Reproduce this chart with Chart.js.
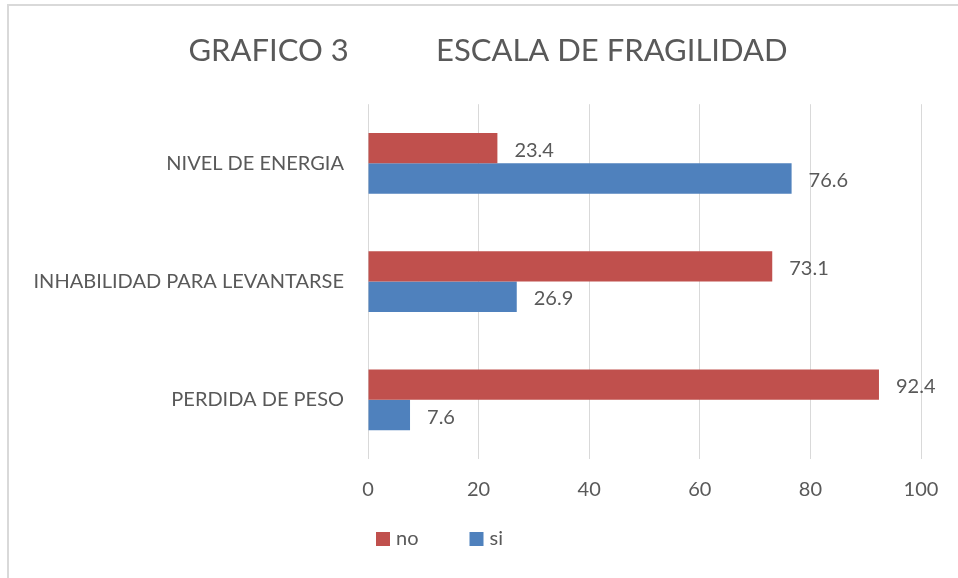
<!DOCTYPE html>
<html>
<head>
<meta charset="utf-8">
<script src="https://cdn.jsdelivr.net/npm/chart.js@4/dist/chart.umd.min.js"></script>
<style>
  html, body { margin: 0; padding: 0; background: #fff; }
  #wrap { position: relative; width: 958px; height: 578px; overflow: hidden; }
  #frame { position: absolute; left: 7px; top: 4px; width: 2000px; height: 2000px;
           border-left: 2px solid #D9D9D9; border-top: 2px solid #D9D9D9; }
  canvas { position: absolute; left: 0; top: 0; }
</style>
</head>
<body>
<div id="wrap">
  <div id="frame"></div>
  <canvas id="c" width="958" height="578"></canvas>
</div>
<script>
const titleText = 'GRAFICO 3           ESCALA DE FRAGILIDAD';
const categories = ['NIVEL DE ENERGIA', 'INHABILIDAD PARA LEVANTARSE', 'PERDIDA DE PESO'];
const seriesNames = ['no', 'si'];
const noValues = [23.4, 73.1, 92.4];
const siValues = [76.6, 26.9, 7.6];
const xTickValues = [0, 20, 40, 60, 80, 100];

const FONT = 'Lato, "Open Sans", sans-serif';
const TEXT = '#595959';
const colors = ['#C0504D', '#4F81BD'];

const dataLabels = {
  id: 'dataLabels',
  afterDatasetsDraw(chart) {
    const ctx = chart.ctx;
    ctx.save();
    ctx.font = '20px ' + FONT;
    ctx.fillStyle = TEXT;
    ctx.textAlign = 'left';
    ctx.textBaseline = 'middle';
    chart.data.datasets.forEach((ds, i) => {
      const meta = chart.getDatasetMeta(i);
      meta.data.forEach((bar, j) => {
        ctx.fillText(ds.data[j].toFixed(1), bar.x + 17, bar.y + 2);
      });
    });
    ctx.restore();
  }
};

const customLegend = {
  id: 'customLegend',
  afterDraw(chart) {
    const ctx = chart.ctx;
    ctx.save();
    ctx.font = '20px ' + FONT;
    ctx.textBaseline = 'middle';
    ctx.textAlign = 'left';
    let x = chart.chartArea.left + 8;
    const y = 539;
    chart.data.datasets.forEach((ds) => {
      ctx.fillStyle = ds.backgroundColor;
      ctx.fillRect(x, y - 7, 14, 14);
      ctx.fillStyle = TEXT;
      ctx.fillText(ds.label, x + 20, y);
      x += 20 + ctx.measureText(ds.label).width + 51;
    });
    ctx.restore();
  }
};

new Chart(document.getElementById('c'), {
  type: 'bar',
  data: {
    labels: categories,
    datasets: [
      { label: seriesNames[0], data: noValues, backgroundColor: colors[0] },
      { label: seriesNames[1], data: siValues, backgroundColor: colors[1] }
    ]
  },
  options: {
    indexAxis: 'y',
    responsive: false,
    animation: false,
    devicePixelRatio: 1,
    categoryPercentage: 0.515,
    barPercentage: 1,
    layout: { padding: { left: 18, right: 0, top: 0, bottom: 57 } },
    plugins: {
      legend: { display: false },
      tooltip: { enabled: false },
      title: {
        display: true,
        text: titleText,
        color: TEXT,
        font: { family: FONT, size: 31, weight: 'normal' },
        padding: { top: 32, bottom: 35 }
      }
    },
    scales: {
      x: {
        min: 0, max: 100,
        afterBuildTicks(scale) { scale.ticks = xTickValues.map(v => ({ value: v })); },
        afterFit(scale) { scale.paddingRight = 37; },
        grid: { color: '#D9D9D9', lineWidth: 1, drawTicks: false },
        border: { display: false },
        ticks: { color: TEXT, font: { family: FONT, size: 20 }, padding: 19 }
      },
      y: {
        afterFit(scale) { scale.width = 368 - 18; },
        grid: { display: false, drawTicks: false },
        border: { display: false },
        ticks: { color: TEXT, font: { family: FONT, size: 20 }, padding: 24 }
      }
    }
  },
  plugins: [dataLabels, customLegend]
});
</script>
</body>
</html>
